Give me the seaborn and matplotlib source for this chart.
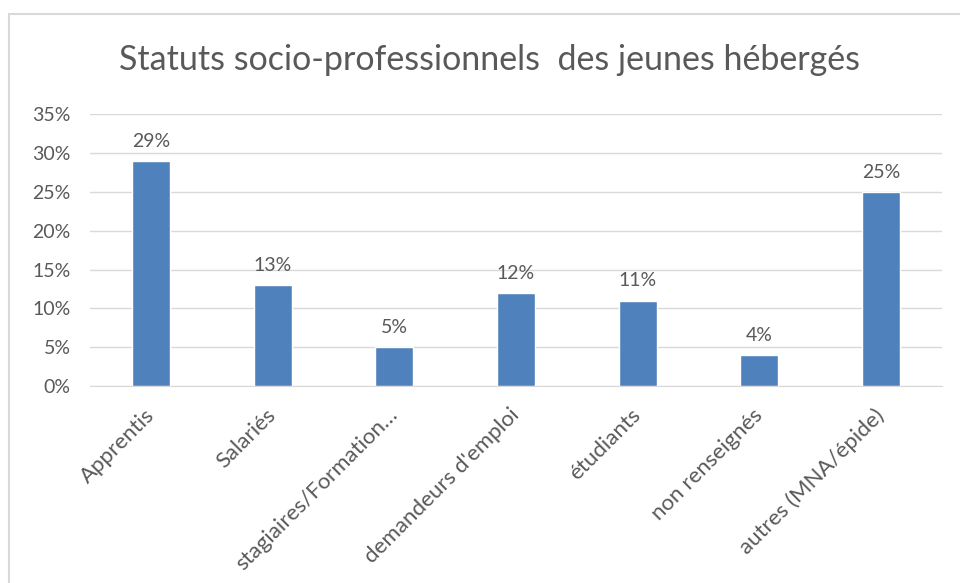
import seaborn as sns
import matplotlib.pyplot as plt
import matplotlib.transforms as mtransforms
import pandas as pd
from matplotlib.patches import Rectangle
from matplotlib.ticker import FuncFormatter

categories = ['Apprentis', 'Salariés', 'stagiaires/Formation…', "demandeurs d'emploi",
              'étudiants', 'non renseignés', 'autres (MNA/épide)']
values = [0.29, 0.13, 0.05, 0.12, 0.11, 0.04, 0.25]
title = 'Statuts socio-professionnels  des jeunes hébergés'

df = pd.DataFrame({'statut': categories, 'part': values})

sns.set_style('white')
plt.rcParams['font.family'] = ['Lato', 'DejaVu Sans']
grey = '#595959'

fig = plt.figure(figsize=(9.6, 5.83), dpi=100)
ax = fig.add_axes([0.094, 0.338, 0.887, 0.466])

sns.barplot(data=df, x='statut', y='part', color='#4F81BD', saturation=1,
            width=0.31, ax=ax, zorder=3)

ax.set_ylim(0, 0.35)
ax.set_yticks([i * 0.05 for i in range(8)])
ax.yaxis.set_major_formatter(FuncFormatter(lambda v, p: f'{v * 100:.0f}%'))
ax.grid(axis='y', color='#D9D9D9', linewidth=1, zorder=0)
ax.set_xlabel('')
ax.set_ylabel('')
for s in ['top', 'right', 'left']:
    ax.spines[s].set_visible(False)
ax.spines['bottom'].set_color('#D9D9D9')
ax.tick_params(axis='both', length=0, colors=grey)
ax.tick_params(axis='y', pad=14, labelsize=14)
ax.tick_params(axis='x', pad=10, labelsize=16)
# nudge the slanted labels a little left / down, like the original
shift = mtransforms.ScaledTranslation(-7 / 100, -5 / 100, fig.dpi_scale_trans)
for lab in ax.get_xticklabels():
    lab.set_rotation(45)
    lab.set_ha('right')
    lab.set_rotation_mode('anchor')
    lab.set_transform(lab.get_transform() + shift)

for i, v in enumerate(values):
    ax.annotate(f'{v * 100:.0f}%', (i, v), xytext=(0, 8), textcoords='offset points',
                ha='center', va='bottom', fontsize=14, color=grey)

fig.text(0.51, 0.897, title, ha='center', va='center', fontsize=24.5, color=grey)

fig.patches.append(Rectangle((9 / 960, -0.1), 1.2, 1 - 14 / 583 + 0.1,
                             transform=fig.transFigure, fill=False,
                             edgecolor='#D9D9D9', linewidth=1.5))

fig.savefig('out.png', dpi=100)
